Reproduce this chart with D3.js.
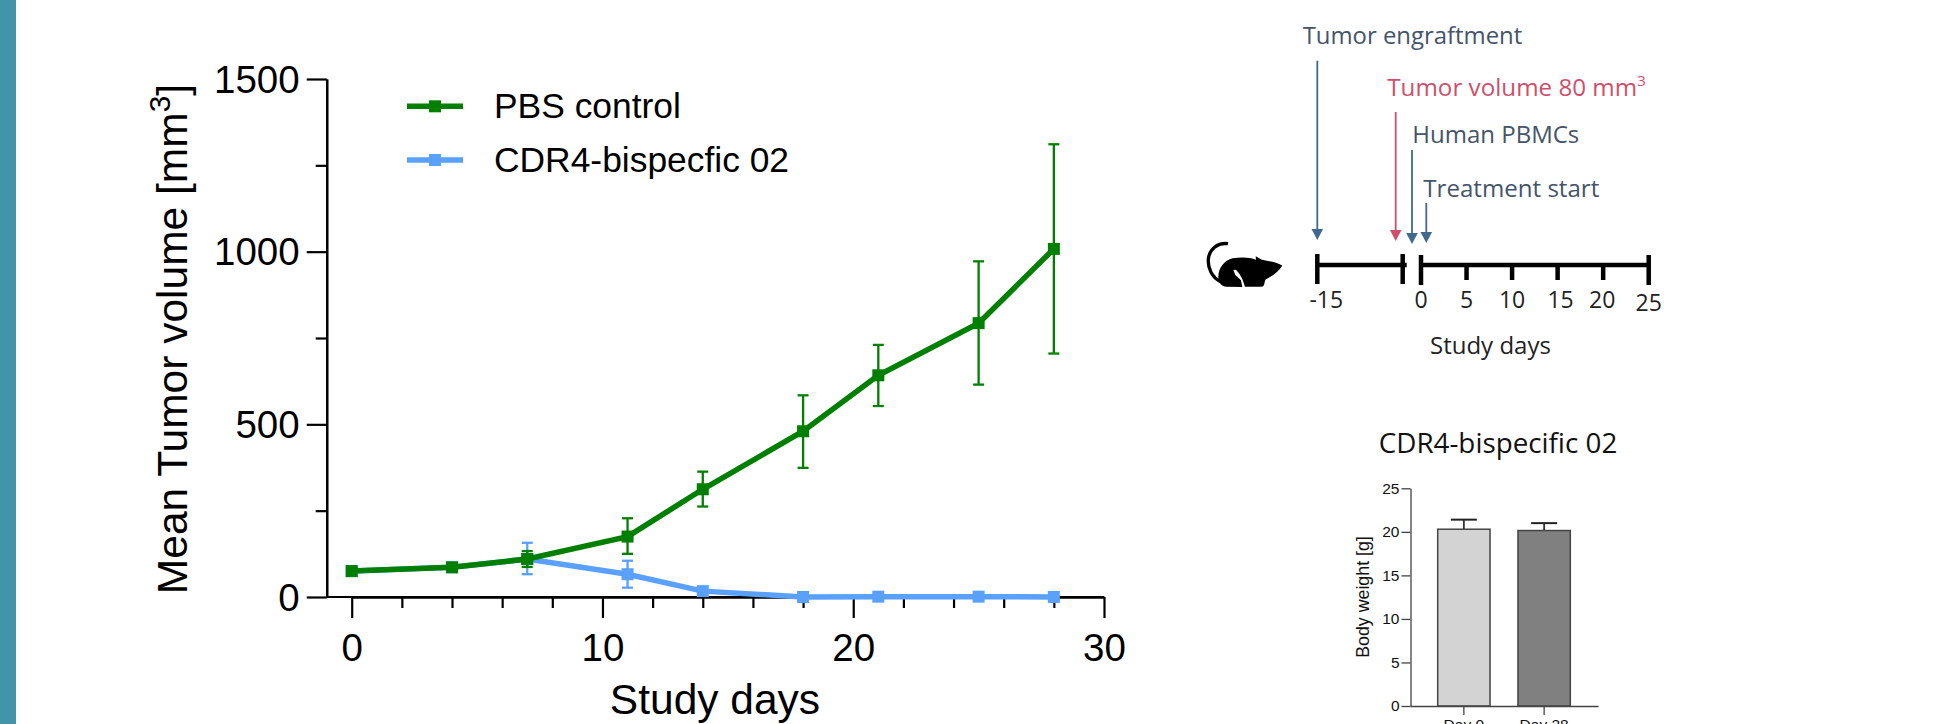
<!DOCTYPE html>
<html>
<head>
<meta charset="utf-8">
<script src="https://cdnjs.cloudflare.com/ajax/libs/d3/7.8.5/d3.min.js"></script>
<style>
html, body { margin: 0; padding: 0; background: #fff; overflow: hidden; }
svg { display: block; }
</style>
</head>
<body>
<script>
// Tumor volume values
var days = [0, 4, 7, 11, 14, 18, 21, 25, 28];
var pbsMean = [75, 86, 110, 175, 312, 480, 642, 793, 1008];
var pbsUpper = [75, 86, 133, 228, 363, 584, 730, 972, 1311];
var pbsLower = [75, 86, 87, 125, 262, 374, 553, 615, 705];
var cdrMean = [75, 86, 110, 66, 17, 0, 1, 1, 0];
var cdrUpper = [75, 86, 157, 105, 17, 0, 1, 1, 0];
var cdrLower = [75, 86, 66, 27, 17, 0, 1, 1, 0];
var seriesNames = ["PBS control", "CDR4-bispecfic 02"];

// Body weight bars
var weightDays = ["Day 0", "Day 28"];
var weightMean = [20.3, 20.15];
var weightUpper = [21.4, 21.0];

// Study timeline
var timelineTicks = [0, 5, 10, 15, 20, 25];
var timelineLabels = [-15, 0, 5, 10, 15, 20, 25];

var green = "#007f00";
var blue = "#5aa0ff";
var slate = "#44546a";
var arrowBlue = "#41698c";
var red = "#cf4f6b";
var arial = "'Liberation Sans', Arial, sans-serif";
var humanist = "'Open Sans', 'Noto Sans', sans-serif";

var svg = d3.select("body")
	.append("svg")
	.attr("width", 1934)
	.attr("height", 724);

// side band
svg.append("rect")
	.attr("width", 16)
	.attr("height", 724)
	.attr("fill", "#4295a8");

// ---- main line chart ----
var xScale = d3.scaleLinear().domain([0, 30]).range([351.7, 1104]);
var yScale = d3.scaleLinear().domain([0, 1500]).range([597, 79]);
var axisX = 326.7;
var chart = svg.append("g");

function styleAxis(g) {
	g.selectAll("path").attr("stroke", "#000").attr("stroke-width", 2.2);
	g.selectAll("line").attr("stroke", "#000").attr("stroke-width", 2.2);
	g.selectAll("text").attr("font-family", arial).attr("font-size", 38.5).attr("fill", "#000");
}

// y axis, major then minor ticks
chart.append("g")
	.attr("transform", "translate(" + axisX + ",0)")
	.call(d3.axisLeft(yScale).tickValues([250, 750, 1250]).tickSize(11).tickSizeOuter(0).tickFormat(""))
	.call(styleAxis);
chart.append("g")
	.attr("transform", "translate(" + axisX + ",1)")
	.call(d3.axisLeft(yScale).tickValues([0, 500, 1000, 1500]).tickSize(20).tickSizeOuter(0).tickPadding(7).tickFormat(d3.format("d")))
	.call(styleAxis)
	.call(function(g) { g.selectAll("line").attr("transform", "translate(0,-1)"); g.select("path.domain").attr("transform", "translate(0,-1)"); });

// x axis starts at the y axis, not at day 0
chart.append("line")
	.attr("x1", axisX).attr("x2", xScale(30))
	.attr("y1", yScale(0)).attr("y2", yScale(0))
	.attr("stroke", "#000").attr("stroke-width", 2.2);
chart.append("g")
	.attr("transform", "translate(0," + yScale(0) + ")")
	.call(d3.axisBottom(xScale).tickValues(d3.range(2, 30, 2).filter(function(d) { return d % 10 != 0; })).tickSize(11).tickSizeOuter(0).tickFormat(""))
	.call(styleAxis);
chart.append("g")
	.attr("transform", "translate(0," + yScale(0) + ")")
	.call(d3.axisBottom(xScale).tickValues([0, 10, 20, 30]).tickSize(21).tickSizeOuter(0).tickPadding(16).tickFormat(d3.format("d")))
	.call(styleAxis);

var line = d3.line()
	.x(function(d) { return xScale(d.day); })
	.y(function(d) { return yScale(d.mean); });

function drawSeries(mean, upper, lower, color) {
	var rows = days.map(function(d, i) {
		return { day: d, mean: mean[i], upper: upper[i], lower: lower[i] };
	});
	var withError = rows.filter(function(d) { return d.upper != d.lower; });
	var g = chart.append("g");

	g.selectAll(".stem").data(withError).enter().append("line")
		.attr("x1", function(d) { return xScale(d.day); })
		.attr("x2", function(d) { return xScale(d.day); })
		.attr("y1", function(d) { return yScale(d.upper); })
		.attr("y2", function(d) { return yScale(d.lower); })
		.attr("stroke", color).attr("stroke-width", 2.3);
	["upper", "lower"].forEach(function(key) {
		g.selectAll(".cap-" + key).data(withError).enter().append("line")
			.attr("x1", function(d) { return xScale(d.day) - 5.5; })
			.attr("x2", function(d) { return xScale(d.day) + 5.5; })
			.attr("y1", function(d) { return yScale(d[key]); })
			.attr("y2", function(d) { return yScale(d[key]); })
			.attr("stroke", color).attr("stroke-width", 2.3);
	});
	g.append("path").datum(rows)
		.attr("d", line)
		.attr("fill", "none")
		.attr("stroke", color)
		.attr("stroke-width", 5.5);
	g.selectAll(".marker").data(rows).enter().append("rect")
		.attr("x", function(d) { return xScale(d.day) - 6; })
		.attr("y", function(d) { return yScale(d.mean) - 6; })
		.attr("width", 12).attr("height", 12)
		.attr("fill", color);
}
drawSeries(cdrMean, cdrUpper, cdrLower, blue);
drawSeries(pbsMean, pbsUpper, pbsLower, green);

// legend
var legendY = d3.scalePoint().domain(seriesNames).range([106.3, 160]);
var legendColor = d3.scaleOrdinal().domain(seriesNames).range([green, blue]);
var legend = chart.selectAll(".legend").data(seriesNames).enter().append("g")
	.attr("transform", function(d) { return "translate(0," + legendY(d) + ")"; });
legend.append("line")
	.attr("x1", 407).attr("x2", 463)
	.attr("stroke", function(d) { return legendColor(d); })
	.attr("stroke-width", 5.5);
legend.append("rect")
	.attr("x", 429).attr("y", -6)
	.attr("width", 12).attr("height", 12)
	.attr("fill", function(d) { return legendColor(d); });
legend.append("text")
	.text(function(d) { return d; })
	.attr("x", 494)
	.attr("y", 12)
	.attr("font-family", arial)
	.attr("font-size", 35.4)
	.attr("fill", "#000");

// axis titles
chart.append("text")
	.text("Study days")
	.attr("x", 715).attr("y", 714)
	.attr("text-anchor", "middle")
	.attr("font-family", arial).attr("font-size", 42.5);
var yTitle = chart.append("text")
	.attr("transform", "translate(187,339) rotate(-90)")
	.attr("text-anchor", "middle")
	.attr("font-family", arial).attr("font-size", 42.5);
yTitle.append("tspan").text("Mean Tumor volume [mm");
yTitle.append("tspan").text("3").attr("font-size", 30).attr("dy", -17);
yTitle.append("tspan").text("]").attr("dy", 17);

// ---- study timeline ----
var timeScale = d3.scaleLinear().domain([0, 25]).range([1421, 1648.7]);
var preScale = d3.scaleLinear().domain([-15, -1]).range([1317.3, 1402.7]);
var timeline = svg.append("g");

function drawArrow(x, y1, y2, color) {
	timeline.append("line")
		.attr("x1", x).attr("x2", x)
		.attr("y1", y1).attr("y2", y2 - 8)
		.attr("stroke", color).attr("stroke-width", 1.8);
	timeline.append("path")
		.attr("d", d3.line()([[x - 5.8, y2 - 11], [x + 5.8, y2 - 11], [x, y2]]))
		.attr("fill", color);
}
function label(text, x, y, color, size) {
	return timeline.append("text")
		.text(text)
		.attr("x", x).attr("y", y)
		.attr("font-family", humanist)
		.attr("font-size", size)
		.attr("fill", color);
}

label("Tumor engraftment", 1302.7, 44, slate, 23.9);
drawArrow(preScale(-15), 60.7, 240, arrowBlue);
var redText = label("Tumor volume 80 mm", 1387.3, 96, red, 24.2);
redText.append("tspan").text("3").attr("font-size", 15).attr("dy", -10);
drawArrow(1395.7, 112, 241, red);
label("Human PBMCs", 1412.3, 143, slate, 24);
drawArrow(1412, 150, 244, arrowBlue);
label("Treatment start", 1423.3, 197, slate, 24.1);
drawArrow(1426.3, 203, 243, arrowBlue);

// timeline segments
timeline.append("line")
	.attr("x1", preScale(-15)).attr("x2", preScale(-1) + 4)
	.attr("y1", 265).attr("y2", 265)
	.attr("stroke", "#000").attr("stroke-width", 4.5);
timeline.selectAll(".pre").data([-15, -1]).enter().append("line")
	.attr("x1", function(d) { return preScale(d); })
	.attr("x2", function(d) { return preScale(d); })
	.attr("y1", 254).attr("y2", 284)
	.attr("stroke", "#000").attr("stroke-width", 4.5);
timeline.append("line")
	.attr("x1", timeScale(0)).attr("x2", timeScale(25))
	.attr("y1", 265).attr("y2", 265)
	.attr("stroke", "#000").attr("stroke-width", 4.5);
timeline.selectAll(".tick").data(timelineTicks).enter().append("line")
	.attr("x1", function(d) { return timeScale(d); })
	.attr("x2", function(d) { return timeScale(d); })
	.attr("y1", function(d) { return d == 0 || d == 25 ? 255 : 265; })
	.attr("y2", function(d) { return d == 0 || d == 25 ? 285 : 280; })
	.attr("stroke", "#000").attr("stroke-width", 4.5);

// tick labels are not quite centred in the source image
var labelNudge = { "-15": 9, "15": 3, "20": -1 };
timeline.selectAll(".tlabel").data(timelineLabels).enter().append("text")
	.text(function(d) { return d; })
	.attr("x", function(d) {
		var x = d < 0 ? preScale(d) : timeScale(d);
		return x + (labelNudge[d] || 0);
	})
	.attr("y", function(d) { return d == 25 ? 311 : 308; })
	.attr("text-anchor", "middle")
	.attr("font-family", humanist)
	.attr("font-size", 23)
	.attr("fill", "#222");
label("Study days", 1430, 354, "#222", 24);

// mouse icon
var mouse = timeline.append("g").attr("transform", "translate(1200,235) scale(0.3333)");
mouse.append("path")
	.attr("d", "M84,26 C52,22 28,44 25,72 C23,100 36,128 62,140")
	.attr("fill", "none")
	.attr("stroke", "#000")
	.attr("stroke-width", 10);
mouse.append("path")
	.attr("d", "M247,92 C232,82 205,78 186,74 L167,64 L168,74 C150,66 120,66 98,70 C72,76 56,100 55,124 C54,142 64,154 80,155 L127,156 L123,136 L106,120 L100,105 L108,104 L118,116 L127,132 L135,155 L184,155 C194,155 192,146 196,134 C216,124 236,110 247,92 Z")
	.attr("fill", "#000");

// ---- body weight bars ----
svg.append("text")
	.text("CDR4-bispecific 02")
	.attr("x", 1498).attr("y", 452.7)
	.attr("text-anchor", "middle")
	.attr("font-family", humanist)
	.attr("font-size", 27.8)
	.attr("fill", "#111");

var barY = d3.scaleLinear().domain([0, 25]).range([706, 488.3]);
var barX = d3.scaleBand().domain(weightDays).range([1410, 1598]).paddingInner(0.348).paddingOuter(0.345);
var barFill = d3.scaleOrdinal().domain(weightDays).range(["#d3d3d3", "#808080"]);
var bars = svg.append("g");

bars.selectAll(".err").data(weightDays).enter().append("line")
	.attr("x1", function(d) { return barX(d) + barX.bandwidth() / 2; })
	.attr("x2", function(d) { return barX(d) + barX.bandwidth() / 2; })
	.attr("y1", function(d, i) { return barY(weightUpper[i]); })
	.attr("y2", function(d, i) { return barY(weightMean[i]); })
	.attr("stroke", "#333").attr("stroke-width", 1.8);
bars.selectAll(".cap").data(weightDays).enter().append("line")
	.attr("x1", function(d) { return barX(d) + barX.bandwidth() / 2 - 13; })
	.attr("x2", function(d) { return barX(d) + barX.bandwidth() / 2 + 13; })
	.attr("y1", function(d, i) { return barY(weightUpper[i]); })
	.attr("y2", function(d, i) { return barY(weightUpper[i]); })
	.attr("stroke", "#222").attr("stroke-width", 2);
bars.selectAll(".bar").data(weightDays).enter().append("rect")
	.attr("x", function(d) { return barX(d); })
	.attr("y", function(d, i) { return barY(weightMean[i]); })
	.attr("width", barX.bandwidth())
	.attr("height", function(d, i) { return barY(0) - barY(weightMean[i]); })
	.attr("fill", function(d) { return barFill(d); })
	.attr("stroke", "#444")
	.attr("stroke-width", 1.5);

var barAxisY = bars.append("g")
	.attr("transform", "translate(1410.5,0)")
	.call(d3.axisLeft(barY).tickValues([0, 5, 10, 15, 20, 25]).tickSize(9).tickSizeOuter(0).tickPadding(2));
var barAxisX = bars.append("g")
	.attr("transform", "translate(0,706)")
	.call(d3.axisBottom(barX).tickSize(9).tickSizeOuter(0).tickPadding(4));
[barAxisY, barAxisX].forEach(function(g) {
	g.selectAll("path").attr("stroke", "#444").attr("stroke-width", 1.3);
	g.selectAll("line").attr("stroke", "#444").attr("stroke-width", 1.3);
	g.selectAll("text").attr("font-family", arial).attr("font-size", 15.5).attr("fill", "#111");
});
bars.append("text")
	.text("Body weight [g]")
	.attr("transform", "translate(1369,597) rotate(-90)")
	.attr("text-anchor", "middle")
	.attr("font-family", arial)
	.attr("font-size", 17.8)
	.attr("fill", "#111");
</script>
</body>
</html>
